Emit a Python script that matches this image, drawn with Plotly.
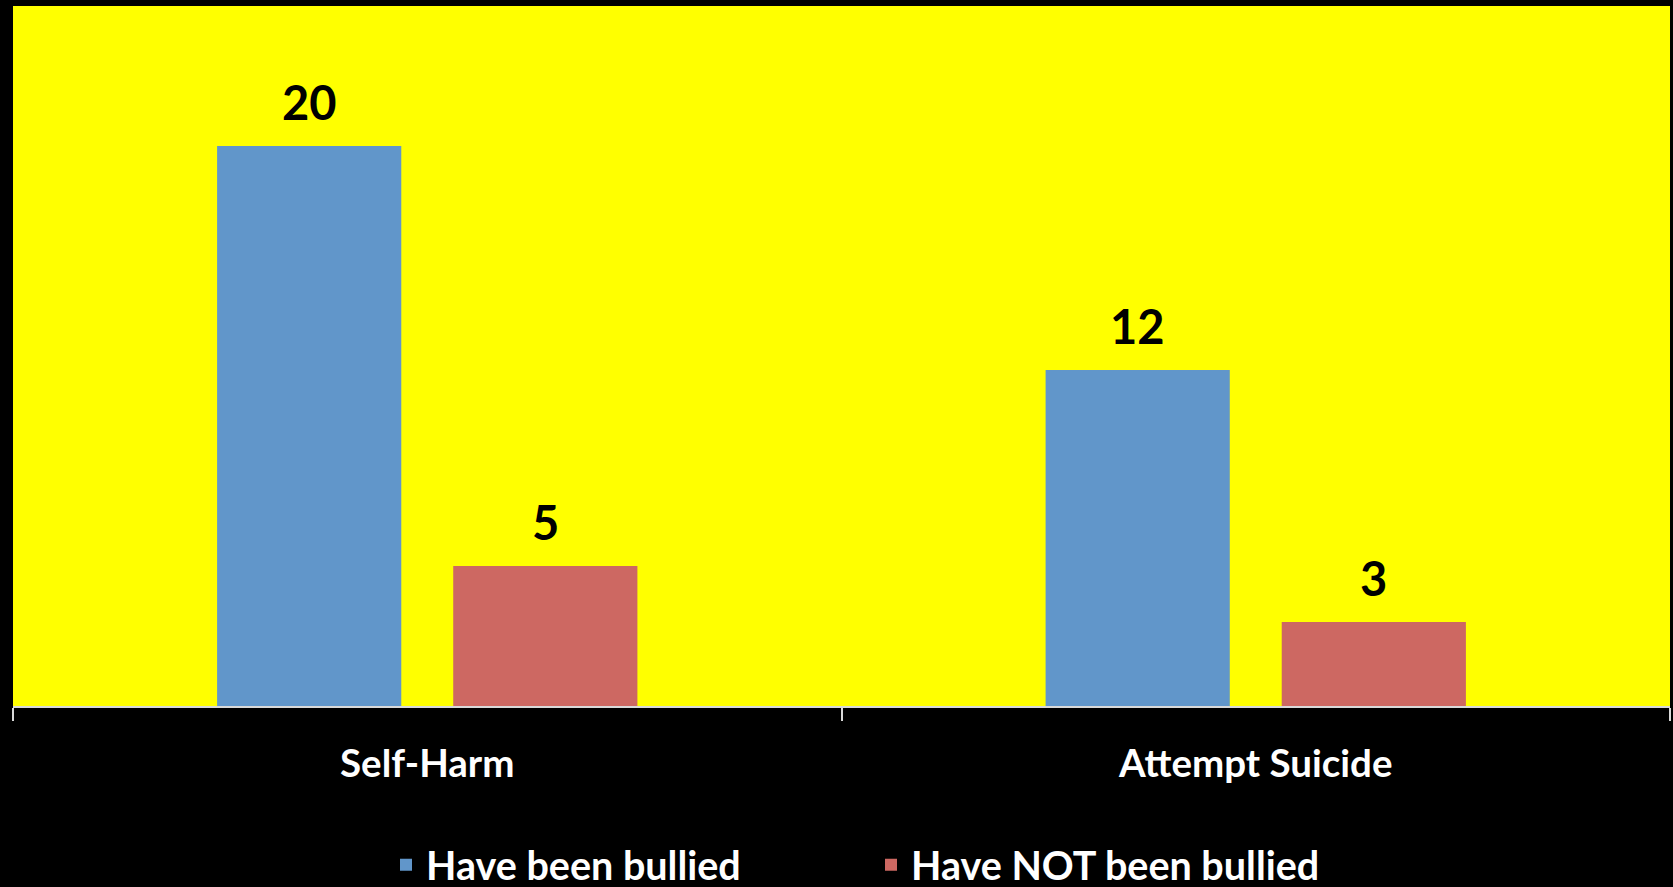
import plotly.graph_objects as go

categories = ["Self-Harm", "Attempt Suicide"]
series_names = ["Have been bullied", "Have NOT been bullied"]
bullied = [20, 12]
not_bullied = [5, 3]
series_values = [bullied, not_bullied]
colors = ["#6196ca", "#cd6862"]

W, H = 1673, 887
margin = dict(l=13, r=3, t=6, b=181)
bargap = 0.43
bargroupgap = 0.22
FONT = "Lato"

fig = go.Figure()
for name, vals, col in zip(series_names, series_values, colors):
    fig.add_trace(go.Bar(
        x=categories, y=vals, name=name,
        marker=dict(color=col, line=dict(width=0)),
        hoverinfo="x+y+name",
    ))

# data labels as annotations, offset to each bar of the group
plot_w = W - margin["l"] - margin["r"]
cat_px = plot_w / len(categories)
slot = cat_px * (1 - bargap) / len(series_names)
for i, vals in enumerate(series_values):
    shift = (i - (len(series_names) - 1) / 2) * slot
    for c, v in zip(categories, vals):
        fig.add_annotation(
            x=c, y=v, xref="x", yref="y", text=f"<b>{v}</b>",
            showarrow=False, xshift=shift, yshift=14, yanchor="bottom",
            font=dict(family=FONT, size=47, color="black"),
        )

fig.update_layout(
    width=W, height=H,
    margin=margin,
    paper_bgcolor="black",
    plot_bgcolor="#ffff00",
    barmode="group",
    bargap=bargap,
    bargroupgap=bargroupgap,
    showlegend=True,
    legend=dict(
        orientation="h",
        xref="container", yref="container",
        x=386 / W, xanchor="left",
        y=22 / H, yanchor="middle",
        font=dict(family=FONT, size=39.5, color="white", weight="bold"),
        entrywidth=440,
        bgcolor="rgba(0,0,0,0)",
        itemclick=False,
    ),
    xaxis=dict(
        automargin=False,
        showgrid=False,
        showline=True, linecolor="#d9d9d9", linewidth=1.5,
        ticks="outside", tickson="boundaries", ticklen=13, tickcolor="#d9d9d9", tickwidth=1.5,
        tickfont=dict(family=FONT, size=38.5, color="white", weight="bold"),
        ticklabelstandoff=23,
    ),
    yaxis=dict(
        automargin=False,
        range=[0, 25],
        showgrid=False, showline=False, showticklabels=False, ticks="",
        zeroline=False,
    ),
)

fig.write_html(
    "out.html",
    config={"displayModeBar": False},
    post_script="document.body.style.margin='0';document.body.style.background='black';",
)
